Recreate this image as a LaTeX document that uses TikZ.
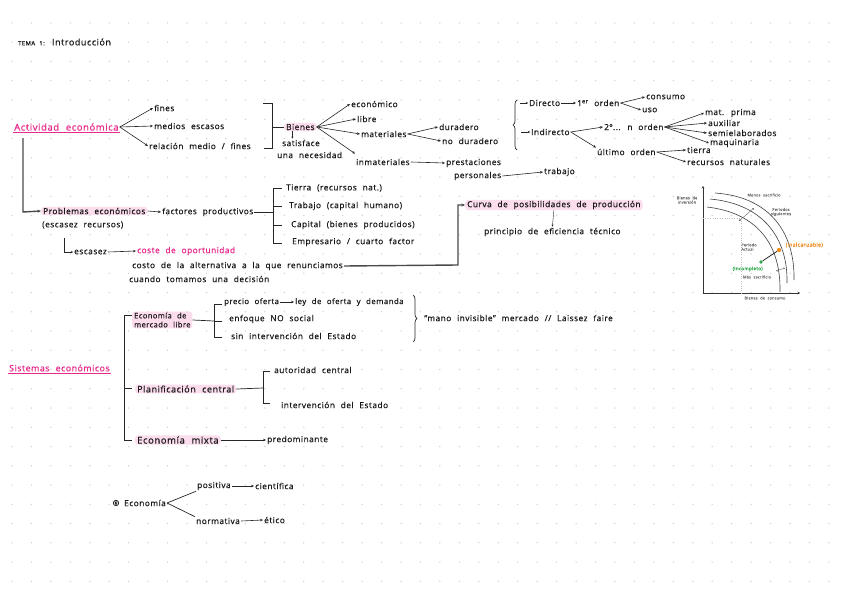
\documentclass[tikz,border=0pt]{standalone}
\usepackage{fontspec}
\setmainfont[LetterSpace=6,WordSpace=2.2,FakeBold=0.5]{Open Sans}
\usetikzlibrary{arrows.meta,decorations.pathreplacing,calc}
\definecolor{pk}{HTML}{E8288A}
\definecolor{hl}{HTML}{FBDDED}
\definecolor{lncol}{HTML}{4A4A4A}
\definecolor{dotc}{HTML}{CFCFCF}
\definecolor{org}{HTML}{F08A1C}
\definecolor{grn}{HTML}{2BA84A}
\begin{document}
\begin{tikzpicture}[x=1pt,y=-1pt,
 tx/.style={anchor=west,inner sep=1pt,font=\fontsize{8.3}{9}\selectfont,text=black!90},
 ar/.style={-{Stealth[length=3pt,width=2.6pt]},line width=0.6pt,black!85},
 sar/.style={-{Stealth[length=2pt,width=2pt]},line width=0.4pt,black!85},
 brk/.style={line width=0.7pt,black!85},
 gl/.style={line width=1.4pt,lncol},
 hlt/.style={tx,fill=hl,rounded corners=3pt,inner xsep=2pt},
 pkt/.style={tx,text=pk},
 brace/.style={decorate,decoration={brace,amplitude=4pt},line width=0.7pt,black!85},
 gtxt/.style={inner sep=0.5pt,font=\fontsize{3.8}{4.3}\selectfont,text=black!55,align=center}]
\useasboundingbox (0,0) rectangle (848,599);
\fill[white] (0,0) rectangle (848,599);
\foreach \i in {0,...,43}{\foreach \j in {0,...,30}{\fill[dotc] (12+\i*19.45,23+\j*19.25) circle (0.75);}}

% title
\node[tx,font=\fontsize{9}{9}\selectfont] (title) at (17,42) {{\fontsize{6}{6}\selectfont TEMA 1:} Introducción};

% Actividad economica
\node[pkt,font=\fontsize{9.5}{10}\selectfont] (act) at (13,127) {Actividad económica};
\draw[pk,line width=0.8pt] ([yshift=-1pt]act.south west) -- ([yshift=-1pt]act.south east);
\node[tx] (fines) at (153,108) {fines};
\node[tx] (medios) at (153,126) {medios escasos};
\node[tx] (rel) at (148,146) {relación medio / fines};
\draw[ar] (act.east) -- (fines.west);
\draw[ar] (act.east) -- (medios.west);
\draw[ar] (act.east) -- (rel.west);
\draw[brk] (263,103) -- (272,103) -- (272,148) -- (264,148);
\node[hlt] (bienes) at (284,127) {Bienes};
\draw[brk] (272,127) -- (bienes.west);
\node[tx] (satisf) at (281,143) {satisface};
\node[tx] (nec) at (276,155) {una necesidad};
\draw[sar] ([xshift=-8pt]bienes.south) -- ([xshift=-8pt]bienes.south |- satisf.north);
\node[tx] (econ) at (350,104) {económico};
\node[tx] (libre) at (356,119) {libre};
\node[tx] (mat) at (360,134) {materiales};
\node[tx] (inmat) at (355,162) {inmateriales};
\draw[ar] (bienes.east) -- (econ.west);
\draw[ar] (bienes.east) -- (libre.west);
\draw[ar] (bienes.east) -- (mat.west);
\draw[ar] (bienes.east) -- ([yshift=4pt]inmat.north west);
\node[tx] (dur) at (438,127) {duradero};
\node[tx] (nodur) at (441,141) {no duradero};
\draw[ar] (mat.east) -- (dur.west);
\draw[ar] (mat.east) -- (nodur.west);
\node[tx] (prest) at (445,163) {prestaciones};
\node[tx] (pers) at (453,176) {personales};
\node[tx] (trab) at (543,172) {trabajo};
\draw[ar] (inmat.east) -- (prest.west);
\draw[ar] (pers.east) -- (trab.west);
\draw[brace] (517,150) -- (517,100);
\coordinate (dirc) at (520,103);
\coordinate (indc) at (521,132);
\node[tx] (dir) at (528,103) {Directo};
\node[tx] (ind) at (530,132) {Indirecto};
\draw[sar] (dirc) -- (dir.west);
\draw[sar] (indc) -- (ind.west);
\node[tx] (ord1) at (576,103) {1\textsuperscript{er} orden};
\draw[ar] (dir.east) -- (ord1.west);
\node[tx] (cons) at (645,97) {consumo};
\node[tx] (uso) at (641,110) {uso};
\draw[ar] (ord1.east) -- (cons.west);
\draw[ar] (ord1.east) -- (uso.west);
\node[tx] (ord2) at (603,127) {2º... n orden};
\node[tx] (ult) at (596,152) {último orden};
\draw[ar] (ind.east) -- (ord2.west);
\draw[ar] (ind.east) -- (ult.north west);
\node[tx] (matp) at (704,113) {mat. prima};
\node[tx] (aux) at (707,123) {auxiliar};
\node[tx] (semi) at (707,133) {semielaborados};
\node[tx] (maq) at (709,143) {maquinaria};
\foreach \n in {matp,aux,semi,maq}{\draw[ar] (ord2.east) -- (\n.west);}
\node[tx] (tierra2) at (686,150) {tierra};
\node[tx] (recn) at (686,162) {recursos naturales};
\draw[ar] (ult.east) -- (tierra2.west);
\draw[ar] (ult.east) -- (recn.west);

% Problemas economicos
\node[hlt] (prob) at (41,211) {Problemas económicos};
\node[tx] (escrec) at (41,225) {(escasez recursos)};
\coordinate (vstart) at (23,138);
\draw[gl,-{Stealth[length=3.5pt,width=3pt]}] (vstart) -- (23,212) -- (prob.west);
\node[tx] (fact) at (161,212) {factores productivos};
\draw[ar] (prob.east) -- (fact.west);
\draw[brk] (fact.east) -- (273,212);
\draw[brk] (282,188) -- (273,188) -- (273,243) -- (282,243);
\draw[brk] (273,206) -- (282,206);
\draw[brk] (273,225) -- (282,225);
\node[tx] (tierra) at (285,188) {Tierra (recursos nat.)};
\node[tx] (trabajo) at (288,206) {Trabajo (capital humano)};
\node[tx] (capital) at (290,225) {Capital (bienes producidos)};
\node[tx] (empr) at (291,242) {Empresario / cuarto factor};
\coordinate (hk) at (64,238);
\node[tx] (escasez) at (73,252) {escasez};
\draw[sar] (hk) |- (escasez.west);
\node[pkt] (coste) at (136,251) {coste de oportunidad};
\draw[ar] (escasez.east) -- (coste.west);
\node[tx] (costo) at (131,266) {costo de la alternativa a la que renunciamos};
\node[tx] (cuando) at (128,279) {cuando tomamos una decisión};
\node[hlt] (curva) at (465,205) {Curva de posibilidades de producción};
\draw[gl,-{Stealth[length=3.5pt,width=3pt]}] (costo.east) -- (458,265) -- (458,205) -- (curva.west);
\node[tx] (princ) at (483,232) {principio de eficiencia técnico};
\draw[sar] (curva.south) -- (princ.north);

% graph
\draw[line width=0.5pt,black!80,-{Stealth[length=2.5pt,width=2.5pt]}] (703,293) -- (703,186);
\draw[line width=0.5pt,black!80,-{Stealth[length=2.5pt,width=2.5pt]}] (703,293) -- (800,293);
\draw[black!25,dotted,line width=0.4pt] (703,218) -- (741,218) -- (741,293);
\draw[line width=0.6pt,black!75] (707,207) .. controls (758,213) and (781,245) .. (780,292);
\draw[line width=0.6pt,black!75] (710,199) .. controls (765,204) and (788,240) .. (787,283);
\draw[line width=0.6pt,black!75] (715,193) .. controls (772,197) and (795,235) .. (794,280);
\draw[line width=0.4pt,black!60,{Stealth[length=2pt,width=2pt]}-{Stealth[length=2pt,width=2pt]}] (739,221) -- (754,208);
\draw[line width=0.4pt,black!60,{Stealth[length=1.6pt,width=1.6pt]}-{Stealth[length=1.6pt,width=1.6pt]}] (776,271) -- (785,268);
\node[circle,fill=grn,inner sep=1.3pt] (gd) at (761,262) {};
\node[circle,fill=org,inner sep=1.5pt] (od) at (779,250) {};
\draw[line width=0.8pt,black!85] (gd) -- (od);
\node[anchor=west,inner sep=0.5pt,font=\fontsize{5.2}{6}\selectfont,text=org] (inal) at (785,245) {(inalcanzable)};
\node[anchor=west,inner sep=0.5pt,font=\fontsize{4.6}{5}\selectfont,text=grn] (incom) at (732,269) {(incompleto)};
\node[gtxt] (binv) at (687,200) {Bienes de\\inversión};
\node[gtxt] (menos) at (764,195) {Menos sacrificio};
\node[gtxt] (psig) at (781,212) {Periodos\\siguientes};
\node[gtxt,align=left] (pact) at (749,247) {Periodo\\Actual};
\node[gtxt] (mas) at (757,277) {Más sacrificio};
\node[gtxt] (bcons) at (765,298) {Bienes de consumo};

% Sistemas economicos
\node[pkt,font=\fontsize{8.8}{9.5}\selectfont] (sist) at (8,368) {Sistemas económicos};
\draw[pk,line width=0.8pt] ([yshift=-1pt]sist.south west) -- ([yshift=-1pt]sist.south east);
\draw[brk] (132,315) -- (124,315) -- (124,440) -- (132,440);
\draw[brk] (124,388) -- (132,388);
\node[hlt,align=left,font=\fontsize{7.5}{9}\selectfont] (eml) at (132,320) {Economía de\\mercado libre};
\draw[brk] (eml.east) -- (214,321);
\draw[brk] (222,304) -- (214,304) -- (214,337) -- (222,337);
\draw[brk] (214,321) -- (222,321);
\node[tx,font=\fontsize{7.8}{8.5}\selectfont] (precio) at (223,302) {precio oferta};
\node[tx,font=\fontsize{7.8}{8.5}\selectfont] (ley) at (294,302) {ley de oferta y demanda};
\draw[ar] (precio.east) -- (ley.west);
\node[tx] (enf) at (228,319) {enfoque NO social};
\node[tx] (sin) at (230,336) {sin intervención del Estado};
\draw[brace] (413,295) -- (413,342);
\node[tx] (mano) at (423,318) {“mano invisible” mercado // Laissez faire};
\node[hlt,font=\fontsize{9}{9.5}\selectfont] (plan) at (135,389) {Planificación central};
\draw[brk] (plan.east) -- (263,388);
\draw[brk] (270,371) -- (263,371) -- (263,403) -- (270,403);
\node[tx] (aut) at (273,370) {autoridad central};
\node[tx] (interv) at (280,405) {intervención del Estado};
\node[hlt,font=\fontsize{9.5}{10}\selectfont] (mixta) at (135,440) {Economía mixta};
\node[tx] (pred) at (266,440) {predominante};
\draw[ar] (mixta.east) -- (pred.west);

% Economia positiva / normativa
\node[circle,draw,fill=black!15,line width=0.6pt,inner sep=0.6pt,font=\fontsize{4}{4}\selectfont] (bul) at (116,503) {6};
\node[tx] (econ2) at (123,503) {Economía};
\node[tx] (pos) at (196,486) {positiva};
\node[tx] (cient) at (254,486) {científica};
\node[tx] (norm) at (195,521) {normativa};
\node[tx] (etico) at (263,520) {ético};
\draw[brk] (econ2.east) -- (pos.south west);
\draw[brk] (econ2.east) -- (norm.north west);
\draw[ar] (pos.east) -- (cient.west);
\draw[ar] (norm.east) -- (etico.west);
\end{tikzpicture}
\end{document}
